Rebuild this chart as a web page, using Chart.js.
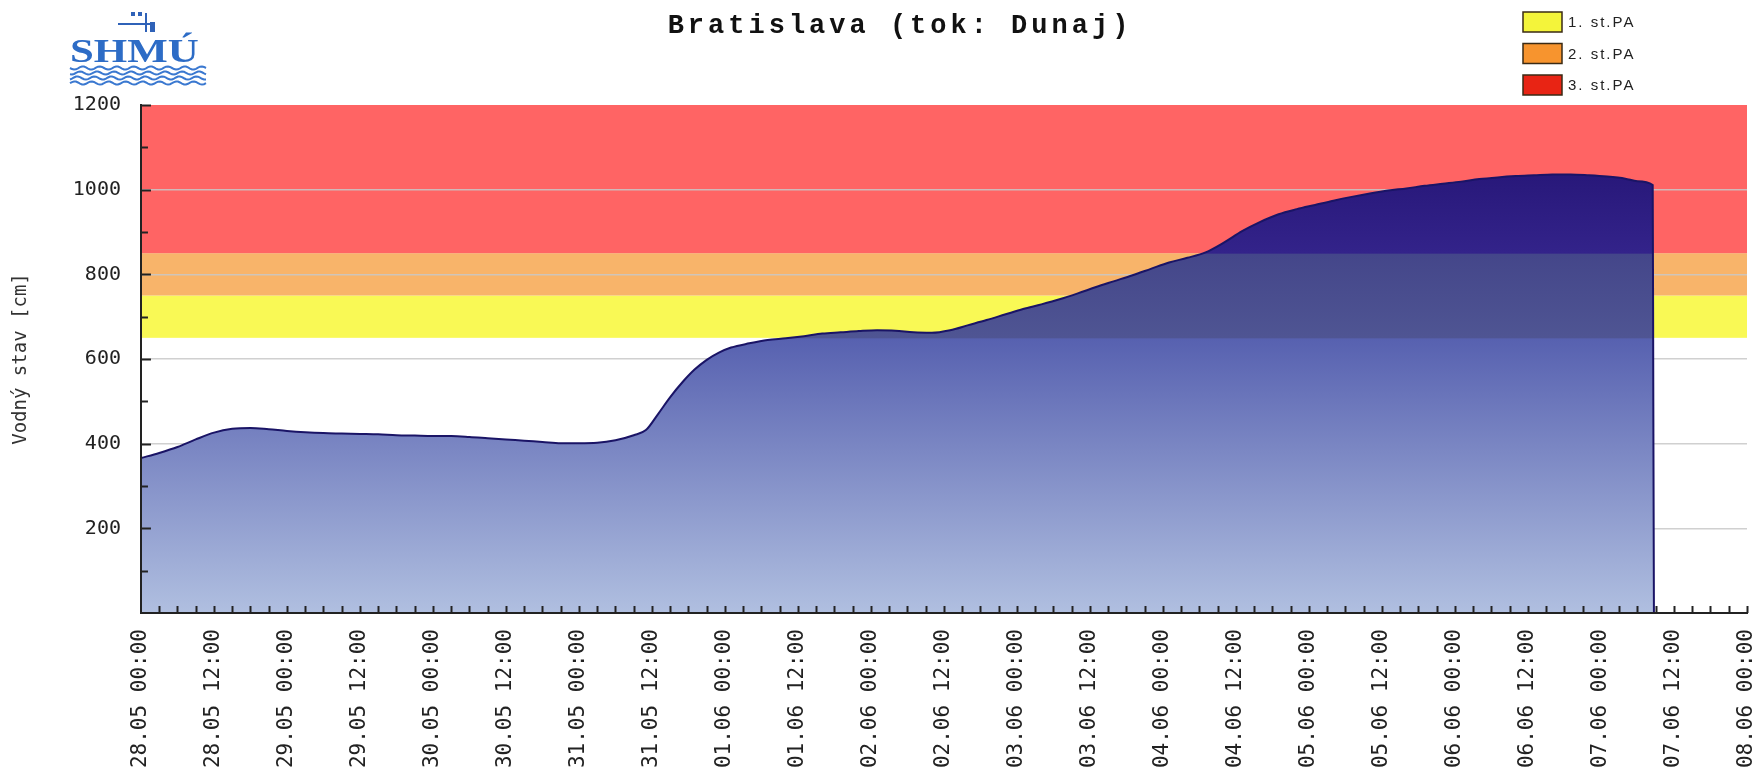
<!DOCTYPE html>
<html>
<head>
<meta charset="utf-8">
<script src="https://cdn.jsdelivr.net/npm/chart.js@4.4.1/dist/chart.umd.min.js"></script>
<style>
  html, body { margin: 0; padding: 0; background: #fff; }
  #wrap { width: 1754px; height: 768px; position: relative; }
</style>
</head>
<body>
<div id="wrap"><canvas id="chart"></canvas></div>
<script>
// hours since 28.05 00:00
const HOURS = [0, 3, 6, 9, 12, 15, 18, 21, 24, 27, 30, 33, 36, 39, 42, 45, 48, 51, 54, 57,
  60, 63, 66, 69, 72, 75, 78, 81, 83, 85, 87, 89, 91, 93, 95, 97, 100, 103, 106, 109,
  112, 115, 118, 121, 124, 127, 130, 133, 136, 139, 142, 145, 148, 151, 154, 157, 160,
  163, 166, 169, 172, 175, 178, 181, 184, 187, 190, 193, 196, 199, 202, 205, 208, 211,
  214, 217, 220, 223, 226, 229, 232, 235, 238, 241, 244, 246, 248.5, 248.6, 248.7];
// water level [cm]
const LEVELS = [366, 378, 392, 410, 426, 435, 437, 434, 430, 427, 425, 424, 423, 422, 420, 419, 418, 418, 416, 413,
  410, 407, 404, 401, 401, 402, 408, 420, 432, 470, 510, 545, 575, 598, 615, 627, 637, 645, 649, 654,
  660, 663, 666, 668, 667, 663, 662, 668, 680, 692, 705, 718, 729, 741, 755, 770, 784,
  798, 813, 828, 839, 852, 875, 902, 924, 942, 954, 964, 974, 983, 991, 998, 1003, 1009,
  1014, 1019, 1025, 1029, 1032, 1034, 1036, 1036, 1034, 1031, 1026, 1020, 1011, 500, 0];

const X_TICK_LABELS = ['28.05 00:00', '28.05 12:00', '29.05 00:00', '29.05 12:00', '30.05 00:00',
  '30.05 12:00', '31.05 00:00', '31.05 12:00', '01.06 00:00', '01.06 12:00', '02.06 00:00',
  '02.06 12:00', '03.06 00:00', '03.06 12:00', '04.06 00:00', '04.06 12:00', '05.06 00:00',
  '05.06 12:00', '06.06 00:00', '06.06 12:00', '07.06 00:00', '07.06 12:00', '08.06 00:00'];

const BAND_NAMES = ['1. st.PA', '2. st.PA', '3. st.PA'];
const BAND_FROM = [650, 750, 850];
const BAND_TO = [750, 850, 1200];
const BAND_COLORS = ['#f9f955', '#f8b46a', '#ff6464'];
const LEGEND_COLORS = ['#f4f43a', '#f7942e', '#e82414'];

const MONO = '"DejaVu Sans Mono", monospace';

function areaFill(ctx) {
  const chart = ctx.chart;
  const area = chart.chartArea;
  if (!area) return null;
  const y = chart.scales.y;
  const h = area.bottom - area.top;
  const stop = (v) => Math.min(1, Math.max(0, (y.getPixelForValue(v) - area.top) / h));
  const g = chart.ctx.createLinearGradient(0, area.top, 0, area.bottom);
  g.addColorStop(0, '#1e0e6c');
  g.addColorStop(stop(BAND_FROM[2]), '#33238a');
  g.addColorStop(stop(BAND_FROM[2]) + 0.002, '#44468a');
  g.addColorStop(stop(BAND_FROM[0]), '#4f5593');
  g.addColorStop(stop(BAND_FROM[0]) + 0.002, '#5761b0');
  g.addColorStop(1, '#b0bfe0');
  return g;
}

const bandsPlugin = {
  id: 'bands',
  beforeDraw(chart) {
    const { ctx, chartArea: a, scales: { y } } = chart;
    ctx.save();
    BAND_FROM.forEach((from, i) => {
      const top = y.getPixelForValue(BAND_TO[i]);
      const bottom = y.getPixelForValue(from);
      ctx.fillStyle = BAND_COLORS[i];
      ctx.fillRect(a.left, top, a.right - a.left, bottom - top);
    });
    ctx.restore();
  },
};

const decorPlugin = {
  id: 'decor',
  afterDraw(chart) {
    const { ctx, chartArea: a, scales: { x, y } } = chart;
    ctx.save();

    // inward tick marks
    ctx.strokeStyle = '#222';
    ctx.lineWidth = 2;
    y.ticks.forEach((t) => {
      if (t.value <= 0) return;
      const py = Math.round(y.getPixelForValue(t.value)) + 0.5;
      const len = t.value % 200 === 0 ? 10 : 7;
      ctx.beginPath();
      ctx.moveTo(a.left, py);
      ctx.lineTo(a.left + len, py);
      ctx.stroke();
    });
    x.ticks.forEach((t) => {
      if (t.value <= 0) return;
      const px = Math.round(x.getPixelForValue(t.value)) + 0.5;
      ctx.beginPath();
      ctx.moveTo(px, a.bottom);
      ctx.lineTo(px, a.bottom - 7);
      ctx.stroke();
    });

    // title
    ctx.fillStyle = '#111';
    ctx.font = 'bold 27px "Liberation Mono", monospace';
    ctx.letterSpacing = '4px';
    ctx.textAlign = 'center';
    ctx.textBaseline = 'middle';
    ctx.fillText('Bratislava (tok: Dunaj)', 900, 26);

    // legend
    ctx.textAlign = 'left';
    ctx.font = '15px "Liberation Sans", sans-serif';
    ctx.letterSpacing = '2px';
    BAND_NAMES.forEach((name, i) => {
      const top = 12 + i * 31.5;
      ctx.fillStyle = LEGEND_COLORS[i];
      ctx.fillRect(1523, top, 39, 20);
      ctx.strokeStyle = '#3a2a14';
      ctx.lineWidth = 1.5;
      ctx.strokeRect(1523, top, 39, 20);
      ctx.fillStyle = '#222';
      ctx.fillText(name, 1568, top + 11);
    });
    ctx.letterSpacing = '0px';

    // logo
    ctx.strokeStyle = '#2f62b8';
    ctx.fillStyle = '#2f62b8';
    ctx.lineWidth = 2;
    ctx.beginPath();
    ctx.moveTo(146, 13); ctx.lineTo(146, 32);
    ctx.moveTo(118, 24); ctx.lineTo(152, 24);
    ctx.stroke();
    ctx.fillRect(131, 12, 4, 4);
    ctx.fillRect(138, 12, 4, 4);
    ctx.fillRect(150, 22, 5, 10);
    ctx.save();
    ctx.translate(70, 62);
    ctx.scale(1.3, 1);
    ctx.textBaseline = 'alphabetic';
    ctx.font = 'bold 33px "Liberation Serif", serif';
    ctx.fillStyle = '#2d6cc6';
    ctx.fillText('SHMÚ', 0, 0);
    ctx.restore();
    ctx.strokeStyle = '#3a78d0';
    ctx.lineWidth = 2;
    for (let r = 0; r < 4; r++) {
      ctx.beginPath();
      for (let px = 70; px <= 207; px += 2) {
        const py = 68 + r * 5 + 1.6 * Math.sin((px - 70) / 17 * Math.PI * 2 + r);
        if (px === 70) ctx.moveTo(px, py); else ctx.lineTo(px, py);
      }
      ctx.stroke();
    }
    ctx.restore();
  },
};

new Chart(document.getElementById('chart'), {
  type: 'line',
  data: {
    datasets: [{
      label: 'Vodný stav',
      data: HOURS.map((h, i) => ({ x: h, y: LEVELS[i] })),
      borderColor: '#1a1466',
      borderWidth: 2,
      backgroundColor: areaFill,
      fill: 'origin',
      pointRadius: 0,
      tension: 0.4,
      cubicInterpolationMode: 'monotone',
    }],
  },
  options: {
    responsive: true,
    maintainAspectRatio: false,
    animation: false,
    layout: { padding: { top: 105, right: 7, bottom: 0, left: 0 } },
    plugins: {
      legend: { display: false },
      tooltip: { enabled: false },
    },
    scales: {
      x: {
        type: 'linear',
        min: 0,
        max: 264,
        ticks: {
          stepSize: 3,
          autoSkip: false,
          maxRotation: 90,
          minRotation: 90,
          padding: 16,
          color: '#222',
          font: { family: MONO, size: 21 },
          callback: (v) => (v % 12 === 0 ? X_TICK_LABELS[v / 12] : ''),
        },
        grid: { display: false, drawTicks: false },
        border: { display: true, color: '#222', width: 2, z: 1 },
        afterFit(scale) {
          scale.paddingLeft = 0;
          scale.paddingRight = 0;
          scale.height = 155;
        },
      },
      y: {
        min: 0,
        max: 1200,
        ticks: {
          stepSize: 100,
          padding: 20,
          color: '#222',
          font: { family: MONO, size: 20 },
          callback: (v) => (v % 200 === 0 && v > 0 ? String(v) : ''),
        },
        grid: {
          drawTicks: false,
          lineWidth: 1.5,
          color: (c) => {
            const v = c.tick ? c.tick.value : 0;
            return v % 200 === 0 && v > 0 && v < 1200 ? 'rgba(200,200,200,0.85)' : 'rgba(0,0,0,0)';
          },
        },
        border: { display: true, color: '#222', width: 2, z: 1 },
        title: {
          display: true,
          text: 'Vodný stav [cm]',
          color: '#333',
          font: { family: MONO, size: 19 },
          padding: { top: 10, bottom: 20 },
        },
      },
    },
  },
  plugins: [bandsPlugin, decorPlugin],
});
</script>
</body>
</html>
